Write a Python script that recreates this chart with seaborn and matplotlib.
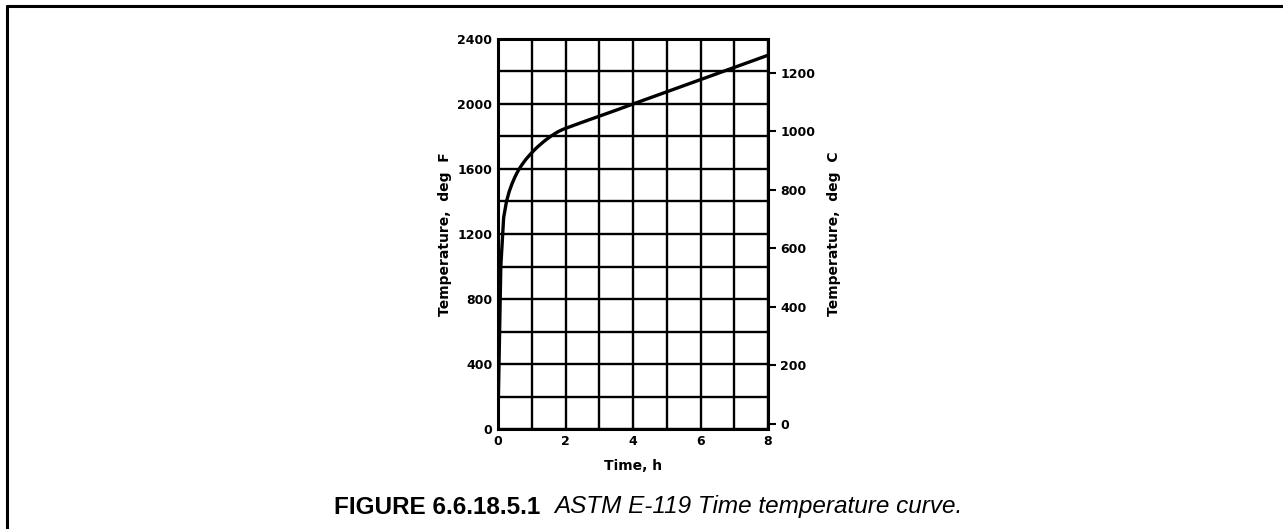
import matplotlib
matplotlib.use("Agg")
import matplotlib.pyplot as plt
from matplotlib.lines import Line2D
import seaborn as sns
import pandas as pd
import numpy as np

# ---- data (ASTM E-119 standard time-temperature curve) ----
time_h = [0.0, 0.083, 0.167, 0.25, 0.333, 0.417, 0.5, 0.583, 0.667, 0.75, 0.833, 0.917,
          1.0, 1.083, 1.167, 1.25, 1.333, 1.417, 1.5, 1.583, 1.667, 1.75, 1.833, 1.917,
          2.0, 2.5, 3.0, 3.5, 4.0, 5.0, 6.0, 7.0, 8.0]
temp_f = [68, 1000, 1300, 1399, 1462, 1510, 1550, 1584, 1613, 1638, 1661, 1681,
          1700, 1718, 1735, 1750, 1765, 1779, 1792, 1804, 1815, 1826, 1835, 1843,
          1850, 1888, 1925, 1962, 2000, 2075, 2150, 2225, 2300]
x_ticks = [0, 2, 4, 6, 8]
f_ticks = [0, 400, 800, 1200, 1600, 2000, 2400]
c_ticks = [0, 200, 400, 600, 800, 1000, 1200]
x_label = "Time, h"
yl_label = "Temperature,  deg  F"
yr_label = "Temperature,  deg  C"
caption_bold = "FIGURE 6.6.18.5.1"
caption_italic = "ASTM E-119 Time temperature curve."

df = pd.DataFrame({"time": time_h, "temp": temp_f})

sns.set_style("white")
plt.rcParams["font.family"] = ["DejaVu Sans"]
for k in ["text.color", "axes.labelcolor", "xtick.color", "ytick.color"]:
    plt.rcParams[k] = "black"

W, H = 1283, 529
fig = plt.figure(figsize=(W / 100, H / 100), dpi=100)
fig.patch.set_facecolor("white")

L, R, T, B = 498, 768, 39, 429
ax = fig.add_axes([L / W, 1 - B / H, (R - L) / W, (B - T) / H])

sns.lineplot(data=df, x="time", y="temp", ax=ax, color="black", linewidth=2.4,
             estimator=None, sort=False)

ax.set_xlim(0, 8)
ax.set_ylim(0, 2400)
ax.set_xticks(x_ticks)
ax.set_xticks(np.arange(0, 9, 1), minor=True)
ax.set_yticks(f_ticks)
ax.set_yticks(np.arange(0, 2401, 200), minor=True)
ax.grid(which="both", color="black", linewidth=1.7)
ax.set_axisbelow(True)
for s in ax.spines.values():
    s.set_linewidth(2.2)
    s.set_color("black")
tick_font = dict(fontsize=9, fontweight="bold", family="DejaVu Sans")
ax.set_xticklabels([str(v) for v in x_ticks], **tick_font)
ax.set_yticklabels([str(v) for v in f_ticks], **tick_font)
ax.tick_params(axis="both", which="both", length=0, pad=4)
ax.set_xlabel(x_label, fontsize=10, fontweight="bold", labelpad=8)
ax.set_ylabel(yl_label, fontsize=10, fontweight="bold", labelpad=4)

ax2 = ax.twinx()
ax2.set_ylim((0 - 32) * 5 / 9, (2400 - 32) * 5 / 9)
ax2.set_yticks(c_ticks)
ax2.set_yticklabels([str(v) for v in c_ticks], **tick_font)
ax2.tick_params(axis="y", length=6, width=1.5, pad=3, direction="out", colors="black")
ax2.set_ylabel(yr_label, fontsize=10, fontweight="bold", labelpad=8)
for s in ax2.spines.values():
    s.set_visible(False)
ax2.grid(False)

# page border (top and left)
fig.add_artist(Line2D([7 / W, 1], [1 - 6 / H, 1 - 6 / H], transform=fig.transFigure,
                      color="black", linewidth=2.2))
fig.add_artist(Line2D([7 / W, 7 / W], [0, 1 - 6 / H], transform=fig.transFigure,
                      color="black", linewidth=2.2))

# caption
cap_y = 1 - 507 / H
capfam = ["Liberation Sans", "DejaVu Sans"]
t1 = fig.text(0, cap_y, caption_bold, fontsize=17.5, fontweight="bold",
              family=capfam, va="center", ha="left")
t2 = fig.text(0, cap_y, caption_italic, fontsize=17.5, style="italic",
              family=capfam, va="center", ha="left")
fig.canvas.draw()
w1 = t1.get_window_extent().width
w2 = t2.get_window_extent().width
gap = 14
total = w1 + gap + w2
x0 = 648 - total / 2
t1.set_x(x0 / W)
t2.set_x((x0 + w1 + gap) / W)

fig.savefig("out.png", dpi=100, facecolor="white")
